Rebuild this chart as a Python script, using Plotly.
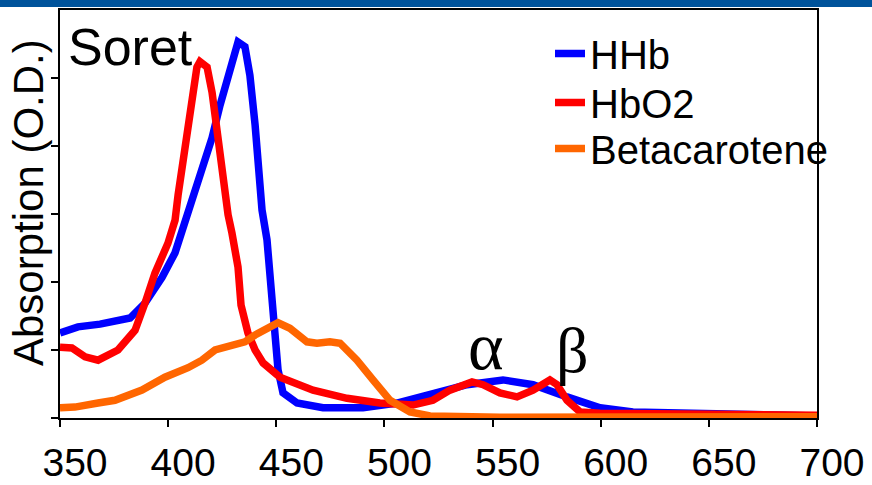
import plotly.graph_objects as go

# ---- data (wavelength nm, absorption arbitrary O.D. units) ----
hhb_nm = [350, 358.3, 368.5, 382.4, 389.3, 397.2, 403.2, 407.8, 414.7, 420.3, 424.0, 427.7,
          430.9, 432.3, 435.5, 437.8, 440.2, 441.5, 443.4, 445.7, 447.6, 449.0, 450.8, 453.1,
          459.6, 471.6, 490.1, 505.8, 522.4, 538.2, 554.8, 568.7, 584.4, 599.7, 614.9,
          645.9, 676.9, 700]
hhb_od = [1.25, 1.34, 1.38, 1.47, 1.69, 2.07, 2.43, 2.88, 3.57, 4.12, 4.60, 5.04,
          5.44, 5.53, 5.46, 5.04, 4.31, 3.72, 3.06, 2.62, 1.88, 1.29, 0.71, 0.37,
          0.22, 0.15, 0.15, 0.22, 0.37, 0.49, 0.56, 0.49, 0.31, 0.15, 0.09,
          0.06, 0.04, 0.03]

hbo2_nm = [350, 355.5, 361.6, 367.6, 376.8, 384.7, 389.3, 393.9, 399.9, 403.2, 404.6, 406.9,
           408.7, 411.0, 413.3, 414.7, 418.0, 420.3, 422.6, 424.9, 427.7, 429.5, 432.3,
           433.7, 436.9, 440.2, 443.9, 451.7, 467.0, 482.7, 497.9, 513.2, 522.4, 530.3,
           540.5, 545.6, 553.4, 561.3, 568.7, 576.5, 579.8, 584.4, 590.4, 599.7, 650, 700]
hbo2_od = [1.04, 1.03, 0.90, 0.85, 1.00, 1.29, 1.69, 2.13, 2.57, 2.91, 3.28, 3.79,
           4.31, 4.79, 5.16, 5.24, 5.16, 4.79, 4.16, 3.57, 2.99, 2.72, 2.22,
           1.66, 1.25, 1.00, 0.81, 0.60, 0.41, 0.29, 0.22, 0.19, 0.26, 0.41,
           0.53, 0.49, 0.37, 0.31, 0.41, 0.56, 0.49, 0.26, 0.09, 0.07, 0.05, 0.04]

beta_nm = [350, 356.9, 367.6, 375.4, 387.9, 398.5, 409.2, 415.6, 421.7, 427.7, 435.5, 440.2,
           443.9, 450.8, 456.3, 464.2, 468.8, 474.8, 479.5, 487.3, 494.7, 502.6, 511.8,
           521.1, 553.4, 600, 650, 700]
beta_od = [0.15, 0.16, 0.22, 0.26, 0.41, 0.60, 0.74, 0.85, 1.00, 1.04, 1.12, 1.22,
           1.29, 1.40, 1.32, 1.12, 1.10, 1.12, 1.10, 0.85, 0.56, 0.26, 0.09,
           0.03, 0.01, 0.02, 0.02, 0.02]

x_ticks = [350, 400, 450, 500, 550, 600, 650, 700]
y_ticks = [0, 1, 2, 3, 4, 5]

fig = go.Figure()
fig.add_trace(go.Scatter(x=hhb_nm, y=hhb_od, mode="lines", name="HHb", legend="legend",
                         line=dict(color="#0000FF", width=7.5)))
fig.add_trace(go.Scatter(x=hbo2_nm, y=hbo2_od, mode="lines", name="HbO2", legend="legend2",
                         line=dict(color="#FF0000", width=7.5)))
fig.add_trace(go.Scatter(x=beta_nm, y=beta_od, mode="lines", name="Betacarotene", legend="legend3",
                         line=dict(color="#FF6600", width=7.5)))

W, H = 872, 485
L, R, T, B = 60, 55, 10, 67
ph = H - T - B
pw = W - L - R

def px_y(y):
    return (H - B - y) / ph

def px_x(x):
    return (x - L) / pw

def leg(top):
    return dict(x=px_x(550), y=px_y(top), xanchor="left", yanchor="top",
                font=dict(size=40), bgcolor="rgba(0,0,0,0)", borderwidth=0)

fig.update_layout(
    width=W, height=H,
    margin=dict(l=L, r=R, t=T, b=B, autoexpand=False),
    paper_bgcolor="white", plot_bgcolor="white",
    font=dict(family="Liberation Sans, Arial, sans-serif", color="black"),
    showlegend=True,
    legend=leg(21), legend2=leg(70), legend3=leg(116),
    xaxis=dict(range=[350, 700], tickvals=x_ticks, ticks="outside", ticklen=7,
               tickwidth=1.5, tickcolor="black", showline=True, linecolor="black",
               linewidth=2, mirror=True, showgrid=False, zeroline=False,
               tickfont=dict(size=39), ticklabelshift=15, ticklabelstandoff=2,
               automargin=False),
    yaxis=dict(range=[0, 6], tickvals=y_ticks, ticks="outside", ticklen=7,
               tickwidth=1.5, tickcolor="black", showline=True, linecolor="black",
               linewidth=2, mirror=True, showgrid=False, zeroline=False,
               showticklabels=False, automargin=False),
)

# top banner
fig.add_shape(type="rect", xref="paper", yref="paper",
              x0=px_x(0), x1=px_x(W), y0=px_y(7), y1=px_y(-2),
              fillcolor="#00539B", line=dict(width=0), layer="above")

fig.add_annotation(text="Absorption (O.D.)", xref="paper", yref="paper",
                   x=px_x(28), y=px_y(203), textangle=-90, showarrow=False,
                   xanchor="center", yanchor="middle", font=dict(size=42))
fig.add_annotation(text="Soret", xref="paper", yref="paper",
                   x=px_x(66), y=px_y(47), showarrow=False,
                   xanchor="left", yanchor="middle", font=dict(size=52))
fig.add_annotation(text="α", xref="paper", yref="paper",
                   x=px_x(486), y=px_y(346), showarrow=False,
                   xanchor="center", yanchor="middle",
                   font=dict(size=68, family="Liberation Serif, Times New Roman, serif"))
fig.add_annotation(text="β", xref="paper", yref="paper",
                   x=px_x(572), y=px_y(350), showarrow=False,
                   xanchor="center", yanchor="middle",
                   font=dict(size=64, family="Liberation Serif, Times New Roman, serif"))

fig.write_html("out.html")
